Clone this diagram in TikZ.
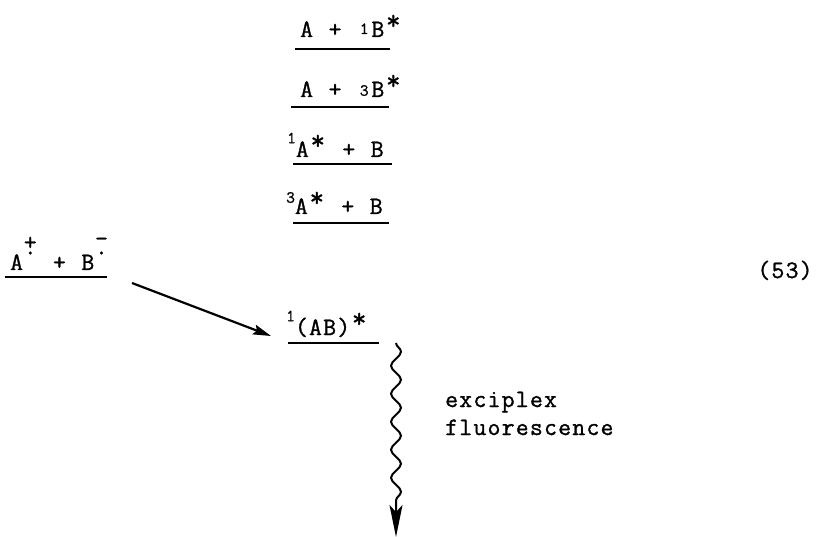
\documentclass[tikz,border=0pt]{standalone}
\usepackage{fontspec}
\setmainfont{Latin Modern Mono}[LetterSpace=5, WordSpace=1.1, FakeBold=1.2]
\usetikzlibrary{decorations.pathmorphing,arrows.meta}
\newcommand\smallsup[2]{\makebox[14.4bp][c]{\raisebox{#1}{\fontsize{17bp}{17bp}\selectfont #2}}}
\newcommand\narrowsup[2]{\raisebox{#1}{\fontsize{17bp}{17bp}\selectfont #2}}
\newcommand\sstar{\makebox[18bp][c]{\raisebox{0.3em}{\fontsize{28bp}{28bp}\selectfont *}}}
\newcommand\radic[2]{\makebox[14.4bp][c]{\raisebox{0.62em}{.}}\llap{\makebox[14.4bp][c]{\raisebox{#2}{#1}}}}
\tikzset{
  lbl/.style={inner sep=0pt, anchor=base west, font=\fontsize{25bp}{28bp}\selectfont},
  lvl/.style={line width=1.7bp},
  conn/.style={line width=2.2bp, -{Stealth[length=18bp,width=10bp,inset=3bp]}},
  wavy/.style={line width=2bp, decorate,
    decoration={snake, amplitude=5bp, segment length=28bp, post length=34bp},
    -{Stealth[length=32bp,width=13bp,inset=7bp]}}
}
\begin{document}
\begin{tikzpicture}[x=1bp,y=-1bp]
\useasboundingbox (0,0) rectangle (819,537);
% labels
\node[lbl] (t1) at (300,37) {A + \smallsup{0.12em}{1}B\sstar};
\node[lbl] (t2) at (300,97) {A + \smallsup{0.05em}{3}B\sstar};
\node[lbl] (t3) at (287,157) {\narrowsup{0.55em}{1}A\sstar{} + B};
\node[lbl] (t4) at (286,214) {\narrowsup{0.45em}{3}A\sstar{} + B};
\node[lbl] (tL) at (10,270) {A\radic{+}{0.8em} + B\radic{-}{0.95em}};
\node[lbl] (tAB) at (286,335) {\narrowsup{0.55em}{1}(AB)\sstar};
\node[lbl, align=left] (tx) at (445,435) {exciplex\\fluorescence};
\node[lbl, anchor=base] (eq) at (785,278) {(53)};
% level lines
\coordinate (a1) at (295,49);  \coordinate (b1) at (390,49);
\coordinate (a2) at (291,107); \coordinate (b2) at (389,107);
\coordinate (a3) at (293,164); \coordinate (b3) at (392,164);
\coordinate (a4) at (293,223); \coordinate (b4) at (389,223);
\coordinate (aL) at (5,277);   \coordinate (bL) at (107,277);
\coordinate (aAB) at (288,343); \coordinate (bAB) at (379,343);
\draw[lvl] (a1) -- (b1);
\draw[lvl] (a2) -- (b2);
\draw[lvl] (a3) -- (b3);
\draw[lvl] (a4) -- (b4);
\draw[lvl] (aL) -- (bL);
\draw[lvl] (aAB) -- (bAB);
% connectors
\coordinate (cs) at (132,283);
\coordinate (ce) at (271,336);
\draw[conn] (cs) -- (ce);
\coordinate (ws) at (396,343);
\coordinate (we) at (396,537);
\draw[wavy] (ws) -- (we);
\end{tikzpicture}
\end{document}
